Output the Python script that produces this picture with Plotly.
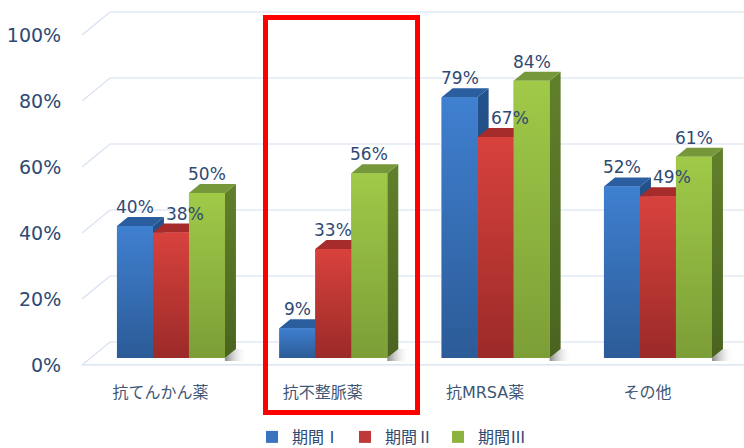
import plotly.graph_objects as go

categories = ["抗てんかん薬", "抗不整脈薬", "抗MRSA薬", "その他"]
series_names = ["期間Ⅰ", "期間Ⅱ", "期間Ⅲ"]
period1 = [0.40, 0.09, 0.79, 0.52]
period2 = [0.38, 0.33, 0.67, 0.49]
period3 = [0.50, 0.56, 0.84, 0.61]
y_ticks = [0, 0.2, 0.4, 0.6, 0.8, 1.0]
y_tick_text = ["0%", "20%", "40%", "60%", "80%", "100%"]

series = [period1, period2, period3]

# styles: (front top, front bottom, top face, side top, side bottom, legend)
styles = [
    dict(ft="#3F80D0", fb="#2C5B97", top="#2B5E9F", st="#24528C", sb="#1C406E", leg="#3A74C0"),
    dict(ft="#D8423D", fb="#9B2A28", top="#A52C2A", st="#8E2523", sb="#6E1B1A", leg="#C0393A"),
    dict(ft="#A0CA48", fb="#7C9E37", top="#77983A", st="#61802B", sb="#4A6420", leg="#8DB33F"),
]

W, H = 744, 448
L, R, T, B = 82, 0, 8, 80
plot_w = W - L - R
plot_h = H - T - B
x_range = [-0.548, 3.53]
y_range = [-0.0303, 1.0606]
ppx = plot_w / (x_range[1] - x_range[0])   # px per x unit
ppy = plot_h / (y_range[1] - y_range[0])   # px per y unit

bar_w = 36 / ppx
dx = 11 / ppx
dy = 9 / ppy
front_off = -0.021
back_off = 0.0485
back_x0 = x_range[0] + 28 / ppx

grid_col = "#D6E0EF"
txt_col = "#2E4A73"
cat_col = "#3F5675"
font_fam = "DejaVu Sans, Noto Sans CJK JP, sans-serif"
cjk_fam = "Noto Sans CJK JP, sans-serif"

fig = go.Figure()

# real bars (legend + base layer)
for s, (vals, name) in enumerate(zip(series, series_names)):
    fig.add_trace(go.Bar(
        x=list(range(len(categories))), y=vals, name=name,
        width=bar_w, offset=-1.5 * bar_w + s * bar_w,
        marker=dict(color=styles[s]["leg"], line=dict(width=0)),
        hoverinfo="skip",
    ))

# grid: left diagonal, back wall lines, floor front edge
for t in y_ticks:
    fig.add_trace(go.Scatter(
        x=[x_range[0], back_x0, x_range[1]],
        y=[t + front_off, t + back_off, t + back_off],
        mode="lines", line=dict(color=grid_col, width=1.2),
        hoverinfo="skip", showlegend=False))
fig.add_trace(go.Scatter(
    x=[x_range[0], x_range[1]], y=[front_off, front_off],
    mode="lines", line=dict(color=grid_col, width=1.2),
    hoverinfo="skip", showlegend=False))

# shadows at the right of each group
for i in range(len(categories)):
    xr = i + 1.5 * bar_w
    fig.add_trace(go.Scatter(
        x=[xr, xr + dx, xr + dx + 10 / ppx, xr + 22 / ppx, xr],
        y=[0, dy, dy, -3 / ppy, -3 / ppy],
        fill="toself", mode="none",
        fillgradient=dict(type="horizontal", colorscale=[[0, "#8A8A8A"], [1, "rgba(255,255,255,0)"]]),
        hoverinfo="skip", showlegend=False))

# 3D faces drawn left to right
for i in range(len(categories)):
    for s, vals in enumerate(series):
        v = vals[i]
        st = styles[s]
        x0 = i - 1.5 * bar_w + s * bar_w
        x1 = x0 + bar_w
        # side face
        fig.add_trace(go.Scatter(
            x=[x1, x1 + dx, x1 + dx, x1, x1], y=[0, dy, v + dy, v, 0],
            fill="toself", mode="none",
            fillgradient=dict(type="vertical", colorscale=[[0, st["sb"]], [1, st["st"]]]),
            hoverinfo="skip", showlegend=False))
        # top face
        fig.add_trace(go.Scatter(
            x=[x0, x0 + dx, x1 + dx, x1, x0], y=[v, v + dy, v + dy, v, v],
            fill="toself", mode="none", fillcolor=st["top"],
            hoverinfo="skip", showlegend=False))
        # front face
        fig.add_trace(go.Scatter(
            x=[x0, x0, x1, x1, x0], y=[0, v, v, 0, 0],
            fill="toself", mode="none",
            fillgradient=dict(type="vertical", colorscale=[[0, st["fb"]], [1, st["ft"]]]),
            hoverinfo="skip", showlegend=False))
        # label shifted right when the bar to the left is taller (avoid overlap)
        shift = 14 if (s > 0 and series[s - 1][i] > v) else 0
        fig.add_annotation(
            x=x0 + bar_w / 2, y=v, xref="x", yref="y",
            text=f"{round(v * 100)}%", showarrow=False,
            yanchor="middle", yshift=19, xshift=shift,
            font=dict(size=17, color=txt_col, family=font_fam))

# highlight rectangle around 抗不整脈薬
def px_x(p):
    return (p - L) / plot_w
def px_y(p):
    return (H - B - p) / plot_h

fig.add_shape(type="rect", xref="paper", yref="paper",
              x0=px_x(265.5), x1=px_x(417.5), y0=px_y(412.5), y1=px_y(17.5),
              line=dict(color="#FF0000", width=5), fillcolor="rgba(0,0,0,0)")

fig.update_layout(
    width=W, height=H,
    margin=dict(l=L, r=R, t=T, b=B, autoexpand=False),
    paper_bgcolor="white", plot_bgcolor="white",
    barmode="overlay",
    font=dict(family=font_fam, color=txt_col),
    xaxis=dict(range=x_range, showgrid=False, zeroline=False, showline=False,
               tickvals=[i - 0.065 for i in range(len(categories))], ticktext=categories,
               ticks="outside", ticklen=10, tickcolor="rgba(0,0,0,0)", automargin=False,
               tickfont=dict(size=16, color=cat_col, family=font_fam), fixedrange=True),
    yaxis=dict(range=y_range, showgrid=False, zeroline=False, showline=False,
               tickvals=[t + front_off for t in y_ticks], ticktext=y_tick_text,
               ticks="outside", ticklen=16, tickcolor="rgba(0,0,0,0)", automargin=False,
               tickfont=dict(size=19, color=txt_col, family=font_fam), fixedrange=True),
    legend=dict(orientation="h", x=px_x(252), xanchor="left", y=px_y(437), yanchor="middle",
                font=dict(size=16, color=txt_col, family=cjk_fam),
                bgcolor="rgba(0,0,0,0)", traceorder="normal"),
    showlegend=True,
)

fig.write_html("out.html")
